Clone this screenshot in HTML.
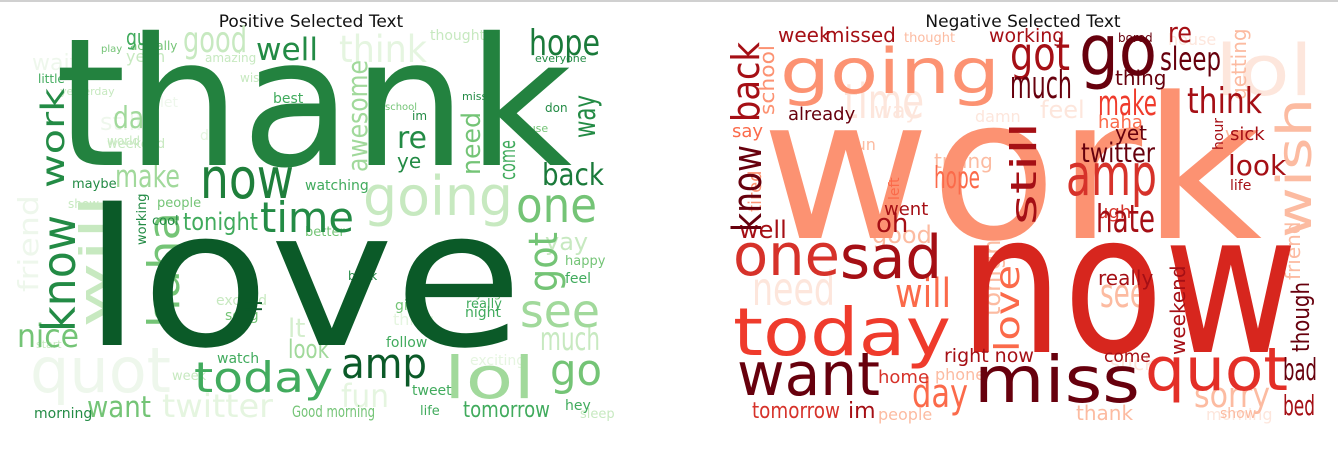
<!DOCTYPE html>
<html><head><meta charset="utf-8"><style>
html,body{margin:0;padding:0;background:#fff;width:1338px;height:451px;overflow:hidden}
svg{display:block}
text{font-family:"DejaVu Sans","Liberation Sans",sans-serif}
</style></head><body>
<svg width="1338" height="451" viewBox="0 0 1338 451" xmlns="http://www.w3.org/2000/svg">
<rect width="1338" height="451" fill="#fff"/>
<line x1="0" y1="1" x2="1338" y2="1" stroke="#d0d0d0" stroke-width="2"/>
<text x="311" y="27" font-size="17" text-anchor="middle" fill="#111">Positive Selected Text</text>
<text x="1023" y="27" font-size="17" text-anchor="middle" fill="#111">Negative Selected Text</text>

<g>
<!-- faint background words -->
<g fill="#eef7ec">
<text x="30" y="392" font-size="62" textLength="141" lengthAdjust="spacingAndGlyphs">quot</text>
<text transform="translate(38,292) rotate(-90)" font-size="28" textLength="97" lengthAdjust="spacingAndGlyphs">friend</text>
<text x="32" y="70" font-size="22">wait</text>
<text x="100" y="130" font-size="24">still</text>
<text x="160" y="107" font-size="14">let</text>
</g>
<g fill="#e5f5e0">
<text x="162" y="417" font-size="32" textLength="111" lengthAdjust="spacingAndGlyphs">twitter</text>
<text x="341" y="407" font-size="32" textLength="48" lengthAdjust="spacingAndGlyphs">fun</text>
<text x="339" y="62" font-size="37" textLength="88" lengthAdjust="spacingAndGlyphs">think</text>
<text x="393" y="325" font-size="16">thing</text>
<text x="470" y="365" font-size="14">exciting</text>
<text x="200" y="140" font-size="14">dd</text>
</g>
<text x="363" y="215" font-size="54" fill="#c7e9c0" textLength="150" lengthAdjust="spacingAndGlyphs">going</text>
<text x="183" y="52" font-size="36" fill="#c7e9c0" textLength="64" lengthAdjust="spacingAndGlyphs">good</text>
<text transform="translate(107,328) rotate(-90)" font-size="38" fill="#c7e9c0" textLength="133" lengthAdjust="spacingAndGlyphs">will</text>
<text x="540" y="350" font-size="32" fill="#c7e9c0" textLength="60" lengthAdjust="spacingAndGlyphs">much</text>
<text x="288" y="337" font-size="26" fill="#d4eecd">lt</text>
<text x="115" y="187" font-size="31" fill="#a1d99b" textLength="65" lengthAdjust="spacingAndGlyphs">make</text>
<text x="113" y="128" font-size="30" fill="#a1d99b" textLength="46" lengthAdjust="spacingAndGlyphs">day</text>
<text x="520" y="327" font-size="46" fill="#a1d99b" textLength="80" lengthAdjust="spacingAndGlyphs">see</text>
<text x="444" y="398" font-size="58" fill="#a1d99b" textLength="91" lengthAdjust="spacingAndGlyphs">lol</text>
<text x="288" y="358" font-size="26" fill="#a1d99b" textLength="41" lengthAdjust="spacingAndGlyphs">look</text>
<text transform="translate(367,172) rotate(-90)" font-size="28" fill="#a1d99b" textLength="112" lengthAdjust="spacingAndGlyphs">awesome</text>
<text x="545" y="250" font-size="24" fill="#c7e9c0">yay</text>
<text x="126" y="62" font-size="16" fill="#c7e9c0">yeah</text>
<text x="205" y="62" font-size="12" fill="#c7e9c0">amazing</text>
<text x="430" y="40" font-size="14" fill="#c7e9c0">thought</text>
<text x="60" y="95" font-size="11" fill="#c7e9c0">yesterday</text>
<text x="240" y="82" font-size="12" fill="#c7e9c0">wish</text>
<text x="107" y="145" font-size="12" fill="#c7e9c0">world</text>
<text x="107" y="148" font-size="13" fill="#c7e9c0">weekend</text>
<text x="68" y="208" font-size="12" fill="#c7e9c0">show</text>
<text x="216" y="305" font-size="14" fill="#c7e9c0">excited</text>
<text x="172" y="380" font-size="13" fill="#c7e9c0">week</text>
<text x="580" y="418" font-size="13" fill="#c7e9c0">sleep</text>
<text x="36" y="348" font-size="11" fill="#c7e9c0">start</text>
<!-- medium green -->
<g fill="#74c476">
<text x="516" y="222" font-size="48" textLength="81" lengthAdjust="spacingAndGlyphs">one</text>
<text x="550" y="385" font-size="44" textLength="52" lengthAdjust="spacingAndGlyphs">go</text>
<text x="87" y="417" font-size="29" textLength="64" lengthAdjust="spacingAndGlyphs">want</text>
<text x="292" y="417" font-size="16" textLength="83" lengthAdjust="spacingAndGlyphs">Good morning</text>
<text transform="translate(179,328) rotate(-90)" font-size="44" textLength="116" lengthAdjust="spacingAndGlyphs">haha</text>
<text transform="translate(557,292) rotate(-90)" font-size="40" textLength="60" lengthAdjust="spacingAndGlyphs">got</text>
<text transform="translate(480,175) rotate(-90)" font-size="26" textLength="63" lengthAdjust="spacingAndGlyphs">need</text>
<text x="17" y="347" font-size="32" textLength="62" lengthAdjust="spacingAndGlyphs">nice</text>
<text x="157" y="207" font-size="13">people</text>
<text x="225" y="320" font-size="14">song</text>
<text x="305" y="236" font-size="13">better</text>
<text x="565" y="265" font-size="13">happy</text>
<text x="515" y="132" font-size="11">house</text>
<text x="130" y="50" font-size="12">actually</text>
<text x="101" y="52" font-size="10">play</text>
<text x="385" y="110" font-size="10">school</text>
<text x="466" y="297" font-size="12">trying</text>
<text x="395" y="310" font-size="14">girl</text>
</g>
<g fill="#41ab5d">
<text x="194" y="392" font-size="42" textLength="139" lengthAdjust="spacingAndGlyphs">today</text>
<text x="463" y="417" font-size="22" textLength="87" lengthAdjust="spacingAndGlyphs">tomorrow</text>
<text x="126" y="45" font-size="22" textLength="32" lengthAdjust="spacingAndGlyphs">guy</text>
<text x="183" y="230" font-size="24" textLength="75" lengthAdjust="spacingAndGlyphs">tonight</text>
<text transform="translate(515,180) rotate(-90)" font-size="22" textLength="40" lengthAdjust="spacingAndGlyphs">come</text>
<text x="305" y="190" font-size="14">watching</text>
<text x="386" y="347" font-size="14">follow</text>
<text x="217" y="363" font-size="14">watch</text>
<text x="412" y="395" font-size="14">tweet</text>
<text x="565" y="410" font-size="14">hey</text>
<text x="565" y="283" font-size="14">feel</text>
<text x="465" y="317" font-size="14">night</text>
<text x="466" y="308" font-size="13">really</text>
<text x="273" y="103" font-size="14">best</text>
<text x="420" y="415" font-size="13">life</text>
<text x="38" y="83" font-size="12">little</text>
</g>
<g fill="#238b45">
<text x="256" y="60" font-size="31" textLength="62" lengthAdjust="spacingAndGlyphs">well</text>
<text x="260" y="232" font-size="42" textLength="94" lengthAdjust="spacingAndGlyphs">time</text>
<text x="397" y="148" font-size="30" textLength="30" lengthAdjust="spacingAndGlyphs">re</text>
<text x="397" y="168" font-size="20">ye</text>
<text transform="translate(595,138) rotate(-90)" font-size="30" textLength="43" lengthAdjust="spacingAndGlyphs">way</text>
<text transform="translate(64,188) rotate(-90)" font-size="32" textLength="100" lengthAdjust="spacingAndGlyphs">work</text>
<text transform="translate(75,332) rotate(-90)" font-size="46" textLength="117" lengthAdjust="spacingAndGlyphs">know</text>
<text x="34" y="418" font-size="14">morning</text>
<text x="72" y="188" font-size="13">maybe</text>
<text x="152" y="225" font-size="13">cool</text>
<text transform="translate(146,245) rotate(-90)" font-size="13">working</text>
<text x="545" y="112" font-size="12">don</text>
<text x="535" y="62" font-size="11">everyone</text>
<text x="348" y="280" font-size="12">book</text>
<text x="462" y="100" font-size="11">miss</text>
<text x="412" y="120" font-size="12">im</text>
</g>
<text x="55" y="165" font-size="178" fill="#23823f" textLength="517" lengthAdjust="spacingAndGlyphs">thank</text>
<text x="529" y="55" font-size="36" fill="#1a7a3a" textLength="71" lengthAdjust="spacingAndGlyphs">hope</text>
<text x="542" y="185" font-size="30" fill="#1a7a3a" textLength="62" lengthAdjust="spacingAndGlyphs">back</text>
<text x="200" y="198" font-size="56" fill="#1f7f3b" textLength="94" lengthAdjust="spacingAndGlyphs">now</text>
<text x="83" y="345" font-size="190" fill="#0b5a28" textLength="440" lengthAdjust="spacingAndGlyphs">love</text>
<text transform="translate(245,300) rotate(90)" font-size="22" fill="#0b5a28">ll</text>
<text x="341" y="378" font-size="42" fill="#0b5a28" textLength="86" lengthAdjust="spacingAndGlyphs">amp</text>
</g>

<g>
<g fill="#fde6dc">
<text x="844" y="118" font-size="48" textLength="80" lengthAdjust="spacingAndGlyphs">time</text>
<text x="1215" y="95" font-size="70" textLength="98" lengthAdjust="spacingAndGlyphs">lol</text>
<text x="752" y="305" font-size="46" textLength="83" lengthAdjust="spacingAndGlyphs">need</text>
<text x="874" y="118" font-size="22">way</text>
<text x="1040" y="118" font-size="24">feel</text>
<text x="975" y="122" font-size="16">damn</text>
<text x="1110" y="370" font-size="20">suck</text>
<text x="1168" y="45" font-size="16">house</text>
<text x="1206" y="420" font-size="16">morning</text>
</g>
<g fill="#fcbba1">
<text transform="translate(1311,238) rotate(-90)" font-size="48" textLength="140" lengthAdjust="spacingAndGlyphs">wish</text>
<text x="1194" y="407" font-size="35" textLength="76" lengthAdjust="spacingAndGlyphs">sorry</text>
<text x="1100" y="307" font-size="40" textLength="46" lengthAdjust="spacingAndGlyphs">see</text>
<text x="1076" y="420" font-size="20">thank</text>
<text x="934" y="168" font-size="20">trying</text>
<text x="872" y="243" font-size="24">good</text>
<text x="878" y="420" font-size="16">people</text>
<text x="1220" y="418" font-size="14">show</text>
<text x="850" y="150" font-size="16">fun</text>
<text x="935" y="380" font-size="16">phone</text>
<text x="904" y="42" font-size="13">thought</text>
<text transform="translate(1246,100) rotate(-90)" font-size="20">getting</text>
<text transform="translate(1300,280) rotate(-90)" font-size="20">friend</text>
<text transform="translate(1000,316) rotate(-90)" font-size="24">tonight</text>
<text x="1225" y="140" font-size="18">ve</text>
</g>
<text x="761" y="238" font-size="197" fill="#fc9272" textLength="501" lengthAdjust="spacingAndGlyphs">work</text>
<text x="780" y="93" font-size="62" fill="#fc9272" textLength="220" lengthAdjust="spacingAndGlyphs">going</text>
<text transform="translate(774,115) rotate(-90)" font-size="20" fill="#fc9272" textLength="70" lengthAdjust="spacingAndGlyphs">school</text>
<text transform="translate(761,212) rotate(-90)" font-size="18" fill="#fc9272">tired</text>
<g fill="#fb6a4a">
<text x="912" y="407" font-size="40" textLength="56" lengthAdjust="spacingAndGlyphs">day</text>
<text x="895" y="307" font-size="40" textLength="56" lengthAdjust="spacingAndGlyphs">will</text>
<text x="934" y="188" font-size="30" textLength="46" lengthAdjust="spacingAndGlyphs">hope</text>
<text transform="translate(1019,352) rotate(-90)" font-size="34" textLength="87" lengthAdjust="spacingAndGlyphs">love</text>
<text x="732" y="137" font-size="18">say</text>
<text x="1098" y="128" font-size="18">haha</text>
<text transform="translate(899,200) rotate(-90)" font-size="14">left</text>
</g>
<text x="733" y="355" font-size="66" fill="#ef3b2c" textLength="218" lengthAdjust="spacingAndGlyphs">today</text>
<text x="1098" y="115" font-size="35" fill="#ef3b2c" textLength="59" lengthAdjust="spacingAndGlyphs">make</text>
<text x="959" y="352" font-size="195" fill="#d7261e" textLength="339" lengthAdjust="spacingAndGlyphs">now</text>
<text x="1145" y="390" font-size="60" fill="#e32f27" textLength="143" lengthAdjust="spacingAndGlyphs">quot</text>
<g fill="#d6322a">
<text x="1066" y="195" font-size="58" textLength="91" lengthAdjust="spacingAndGlyphs">amp</text>
<text x="733" y="275" font-size="58" textLength="107" lengthAdjust="spacingAndGlyphs">one</text>
<text x="752" y="418" font-size="22" textLength="88" lengthAdjust="spacingAndGlyphs">tomorrow</text>
<text x="878" y="383" font-size="18">home</text>
<text x="1097" y="218" font-size="18">ugh</text>
</g>
<g fill="#a50f15">
<text x="840" y="278" font-size="60" textLength="102" lengthAdjust="spacingAndGlyphs">sad</text>
<text x="1010" y="70" font-size="46" textLength="60" lengthAdjust="spacingAndGlyphs">got</text>
<text x="1187" y="113" font-size="36" textLength="75" lengthAdjust="spacingAndGlyphs">think</text>
<text x="1096" y="232" font-size="38" textLength="59" lengthAdjust="spacingAndGlyphs">hate</text>
<text x="1168" y="42" font-size="28" textLength="24" lengthAdjust="spacingAndGlyphs">re</text>
<text transform="translate(1036,225) rotate(-90)" font-size="36" textLength="103" lengthAdjust="spacingAndGlyphs">still</text>
<text transform="translate(759,122) rotate(-90)" font-size="38" textLength="80" lengthAdjust="spacingAndGlyphs">back</text>
<text x="1283" y="415" font-size="28" textLength="32" lengthAdjust="spacingAndGlyphs">bed</text>
<text x="778" y="42" font-size="20">week</text>
<text x="825" y="42" font-size="20">missed</text>
<text x="989" y="42" font-size="19">working</text>
<text x="739" y="238" font-size="24">well</text>
<text x="1098" y="285" font-size="20">really</text>
<text x="944" y="362" font-size="19">right now</text>
<text x="1104" y="362" font-size="17">come</text>
<text x="848" y="418" font-size="22">im</text>
<text x="884" y="215" font-size="18">went</text>
<text x="876" y="232" font-size="26">oh</text>
<text x="1230" y="140" font-size="18">sick</text>
<text x="1228" y="175" font-size="28">look</text>
<text transform="translate(1185,355) rotate(-90)" font-size="20">weekend</text>
<text transform="translate(1223,150) rotate(-90)" font-size="14">hour</text>
<text x="1230" y="190" font-size="14">life</text>
</g>
<g fill="#67000d">
<text x="1079" y="75" font-size="70" textLength="78" lengthAdjust="spacingAndGlyphs">go</text>
<text x="737" y="395" font-size="60" textLength="143" lengthAdjust="spacingAndGlyphs">want</text>
<text x="974" y="402" font-size="64" textLength="166" lengthAdjust="spacingAndGlyphs">miss</text>
<text x="1010" y="98" font-size="38" textLength="62" lengthAdjust="spacingAndGlyphs">much</text>
<text x="1160" y="70" font-size="32" textLength="61" lengthAdjust="spacingAndGlyphs">sleep</text>
<text x="1081" y="162" font-size="27" textLength="74" lengthAdjust="spacingAndGlyphs">twitter</text>
<text x="1283" y="380" font-size="30" textLength="34" lengthAdjust="spacingAndGlyphs">bad</text>
<text transform="translate(761,232) rotate(-90)" font-size="40" textLength="87" lengthAdjust="spacingAndGlyphs">know</text>
<text transform="translate(1309,352) rotate(-90)" font-size="24" textLength="70" lengthAdjust="spacingAndGlyphs">though</text>
<text x="788" y="120" font-size="18">already</text>
<text x="1118" y="42" font-size="12">bored</text>
<text x="1115" y="140" font-size="20">yet</text>
<text x="1115" y="85" font-size="20">thing</text>
</g>
</g>
</svg>
</body></html>
